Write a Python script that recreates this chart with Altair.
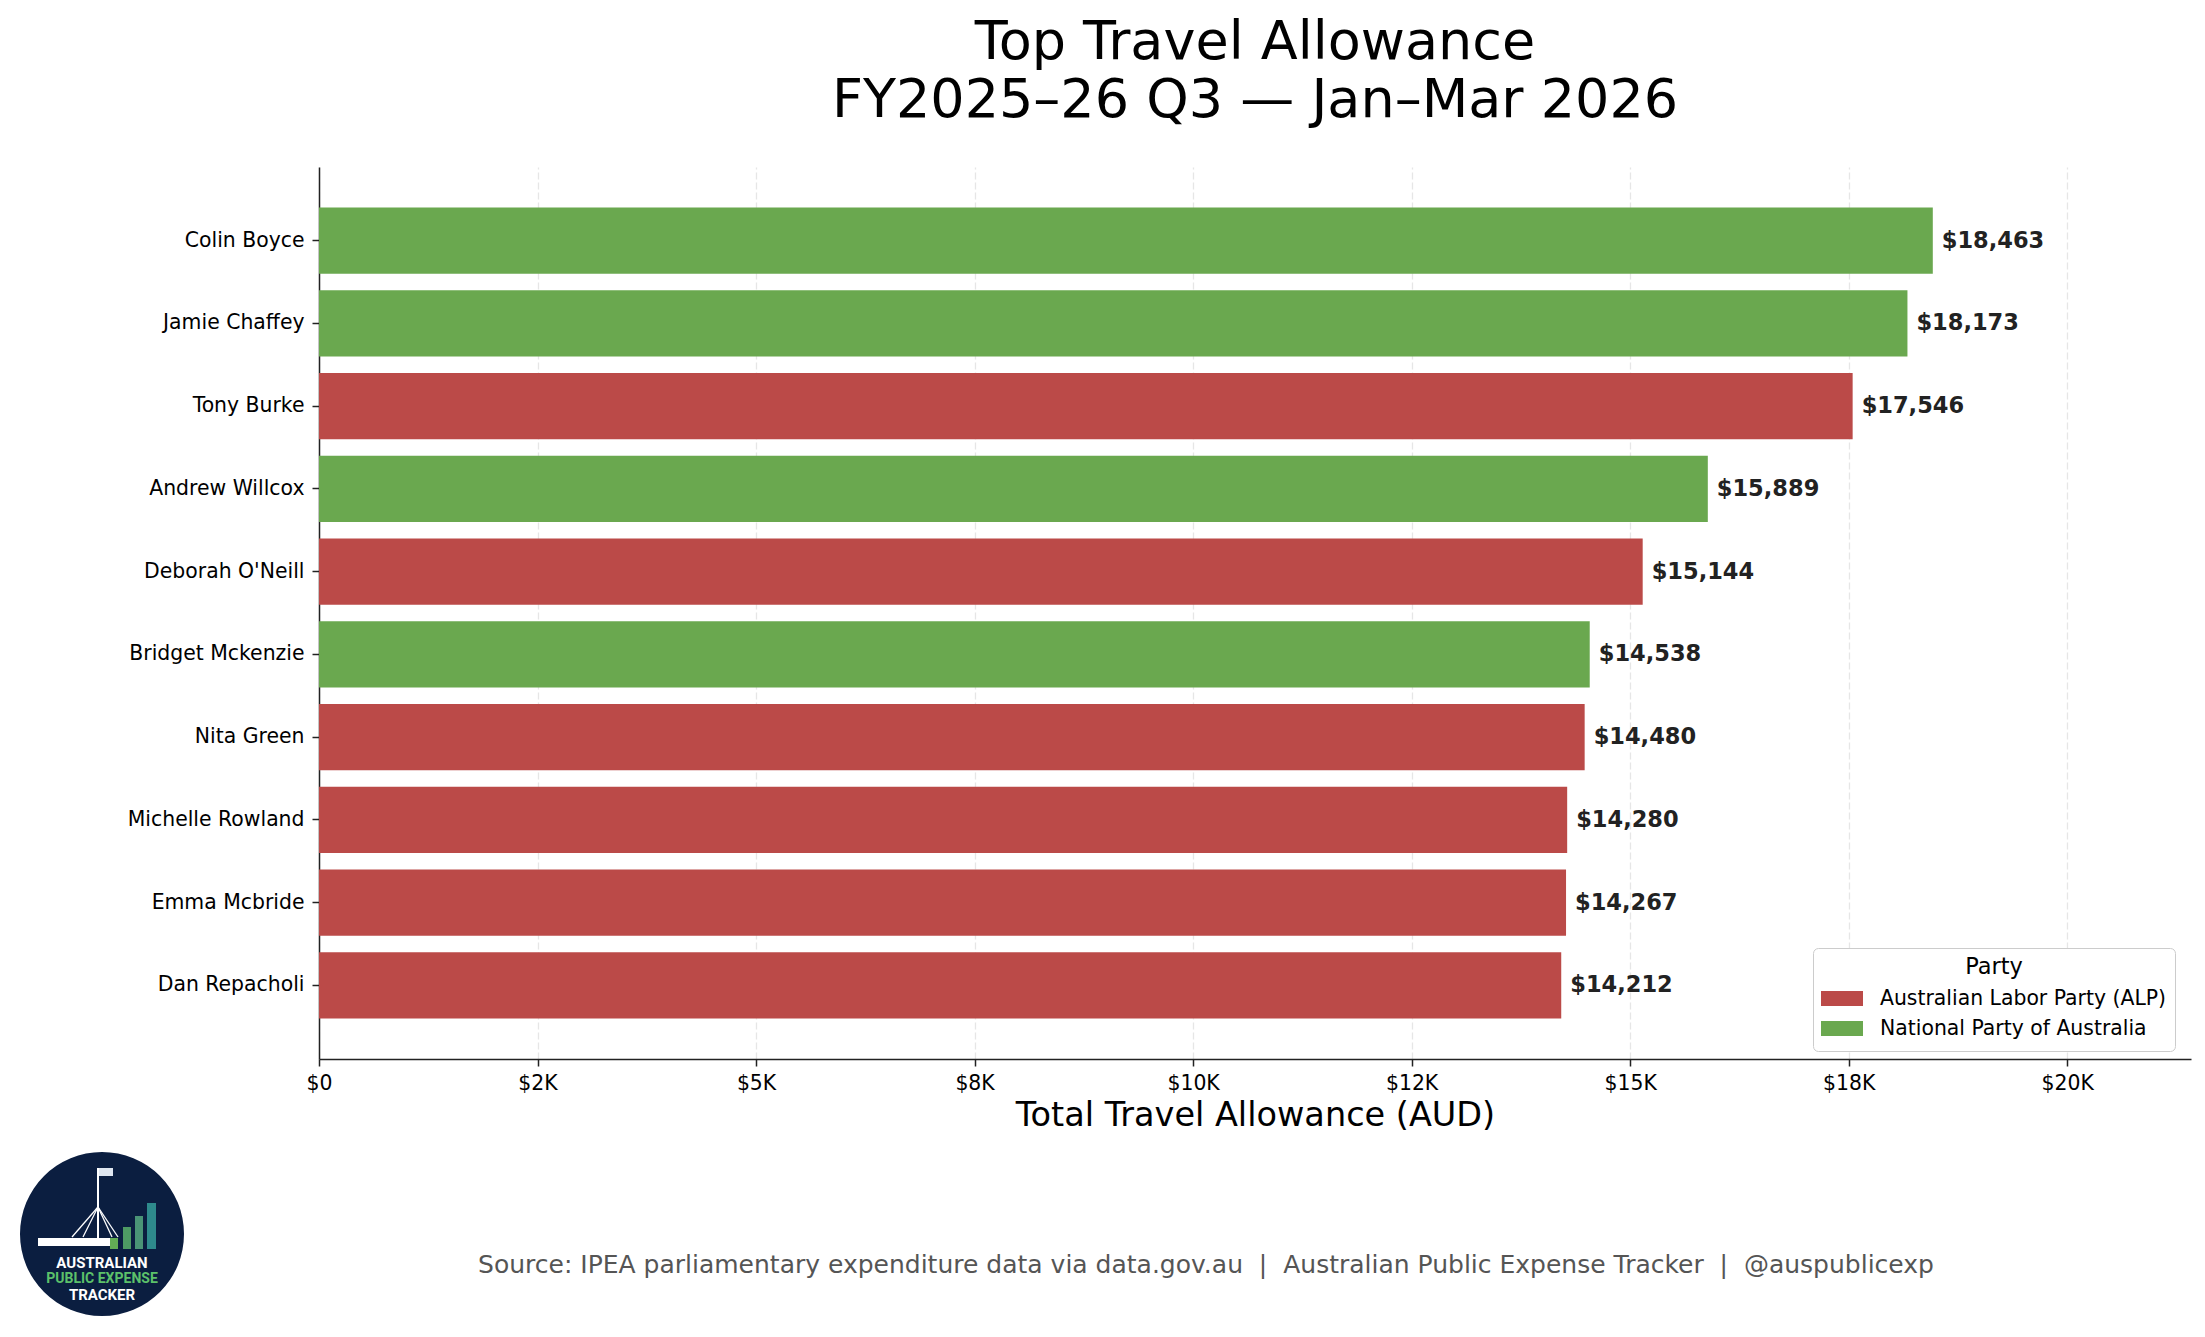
import altair as alt
import pandas as pd

# ---- data ----
NAMES = ["Colin Boyce", "Jamie Chaffey", "Tony Burke", "Andrew Willcox", "Deborah O'Neill",
         "Bridget Mckenzie", "Nita Green", "Michelle Rowland", "Emma Mcbride", "Dan Repacholi"]
VALUES = [18463, 18173, 17546, 15889, 15144, 14538, 14480, 14280, 14267, 14212]
ALP = "Australian Labor Party (ALP)"
NAT = "National Party of Australia"
PARTIES = [NAT, NAT, ALP, NAT, ALP, NAT, ALP, ALP, ALP, ALP]
PARTY_ORDER = [ALP, NAT]
PARTY_COLORS = ["#bb4a48", "#6aa84f"]
TICK_VALUES = [0, 2500, 5000, 7500, 10000, 12500, 15000, 17500, 20000]
TICK_LABELS = ["$0", "$2K", "$5K", "$8K", "$10K", "$12K", "$15K", "$18K", "$20K"]
X_MAX = 21417

TITLE = ["Top Travel Allowance", "FY2025\u201326 Q3 \u2014 Jan\u2013Mar 2026"]
X_TITLE = "Total Travel Allowance (AUD)"
NB = "\u00a0"
SOURCE = ("Source: IPEA parliamentary expenditure data via data.gov.au" + NB + " | " + NB +
          "Australian Public Expense Tracker" + NB + " | " + NB + "@auspublicexp")
LOGO_LINES = ["AUSTRALIAN", "PUBLIC EXPENSE", "TRACKER"]

df = pd.DataFrame({"name": NAMES, "value": VALUES, "party": PARTIES})

FONT = "DejaVu Sans"
W, H = 1872, 892

label_expr = "".join(f"datum.value == {v} ? '{l}' : " for v, l in zip(TICK_VALUES, TICK_LABELS)) + "''"

base = alt.Chart(df)

x_enc = alt.X(
    "value:Q",
    scale=alt.Scale(domain=[0, X_MAX], nice=False, zero=True),
    axis=alt.Axis(
        values=TICK_VALUES, labelExpr=label_expr, title=X_TITLE,
        grid=True, gridDash=[7, 3], gridColor="#e6e6e6", gridWidth=1.3,
        labelFontSize=20.4, labelFont=FONT, labelColor="black", labelPadding=7,
        tickSize=7, tickWidth=1.5, tickColor="#222222",
        domainColor="#222222", domainWidth=1.5,
        titleFontSize=33.5, titleFont=FONT, titleFontWeight="normal", titleColor="black",
        titlePadding=6, labelFlush=False,
    ),
)
y_enc = alt.Y(
    "name:N", sort=NAMES,
    scale=alt.Scale(paddingInner=0.2, paddingOuter=0.49),
    axis=alt.Axis(
        title=None, labelFontSize=20.4, labelFont=FONT, labelColor="black",
        labelPadding=8, labelLimit=400, tickSize=7, tickWidth=1.5, tickColor="#222222",
        domainColor="#222222", domainWidth=1.5, grid=False,
    ),
)

bars = base.mark_bar().encode(
    x=x_enc, y=y_enc,
    color=alt.Color(
        "party:N",
        scale=alt.Scale(domain=PARTY_ORDER, range=PARTY_COLORS),
        legend=alt.Legend(
            orient="none", legendX=1494, legendY=781, title="Party",
            titleFontSize=22.5, titleFont=FONT, titleFontWeight="normal", titleColor="black",
            titleAnchor="middle", titlePadding=6,
            labelFontSize=20.4, labelFont=FONT, labelColor="black", labelLimit=400, labelOffset=17,
            symbolType="M-1,-0.357H1V0.357H-1Z", symbolSize=1764, symbolStrokeWidth=0,
            symbolOpacity=1, clipHeight=28, rowPadding=2, padding=8,
            strokeColor="#cccccc", fillColor="white", cornerRadius=5,
        ),
    ),
)

labels = base.mark_text(
    align="left", baseline="middle", dx=9, fontSize=22.5, fontWeight="bold",
    font=FONT, color="#222222",
).encode(
    x="value:Q", y=alt.Y("name:N", sort=NAMES),
    text=alt.Text("value:Q", format="$,.0f"),
)

one = alt.Data(values=[{"k": 1}])

source = alt.Chart(one).mark_text(
    align="center", baseline="alphabetic", fontSize=25, font=FONT, color="#555555"
).encode(x=alt.value(887), y=alt.value(1106), text=alt.value(SOURCE))

# ---- logo (decoration) ----
logo = [
    alt.Chart(one).mark_point(shape="circle", filled=True, size=26896, color="#0b1e40", opacity=1)
    .encode(x=alt.value(-217), y=alt.value(1067)),
    alt.Chart(one).mark_rect(color="white")
    .encode(x=alt.value(-281), x2=alt.value(-209), y=alt.value(1071), y2=alt.value(1079)),
    alt.Chart(one).mark_rect(color="#dfe6f0")
    .encode(x=alt.value(-221), x2=alt.value(-206), y=alt.value(1001), y2=alt.value(1009)),
    alt.Chart(one).mark_rule(color="white", strokeWidth=2)
    .encode(x=alt.value(-221), x2=alt.value(-221), y=alt.value(1001), y2=alt.value(1071)),
]
for xb in (-247, -236, -207, -201):
    logo.append(
        alt.Chart(one).mark_rule(color="white", strokeWidth=1.3)
        .encode(x=alt.value(-221), x2=alt.value(xb), y=alt.value(1040), y2=alt.value(1070))
    )
for (xa, xb, yt, c) in ((-209, -201, 1071, "#63ad55"), (-196, -188, 1060, "#4e9b64"),
                        (-184, -176, 1049, "#4a9476"), (-172, -163, 1036, "#2e8a8c")):
    logo.append(
        alt.Chart(one).mark_rect(color=c)
        .encode(x=alt.value(xa), x2=alt.value(xb), y=alt.value(yt), y2=alt.value(1082))
    )
for txt, yy, col, fs in zip(LOGO_LINES, (1096, 1112, 1128), ("white", "#5cc16a", "white"), (15, 14, 15)):
    logo.append(
        alt.Chart(one).mark_text(font="Roboto", fontWeight="bold", fontSize=fs, color=col,
                                 align="center", baseline="middle")
        .encode(x=alt.value(-217), y=alt.value(yy), text=alt.value(txt))
    )

chart = alt.layer(bars, labels, source, *logo).properties(
    width=W, height=H,
    title=alt.Title(text=TITLE, fontSize=54, font=FONT, fontWeight="normal", color="black",
                    anchor="middle", frame="group", lineHeight=58, offset=39),
    autosize=alt.AutoSizeParams(type="none"),
    padding={"left": 311, "top": 159, "right": 4, "bottom": 262},
    background="white",
).configure_view(strokeWidth=0)

chart.save("out.html", embed_options={"renderer": "svg", "actions": False})
